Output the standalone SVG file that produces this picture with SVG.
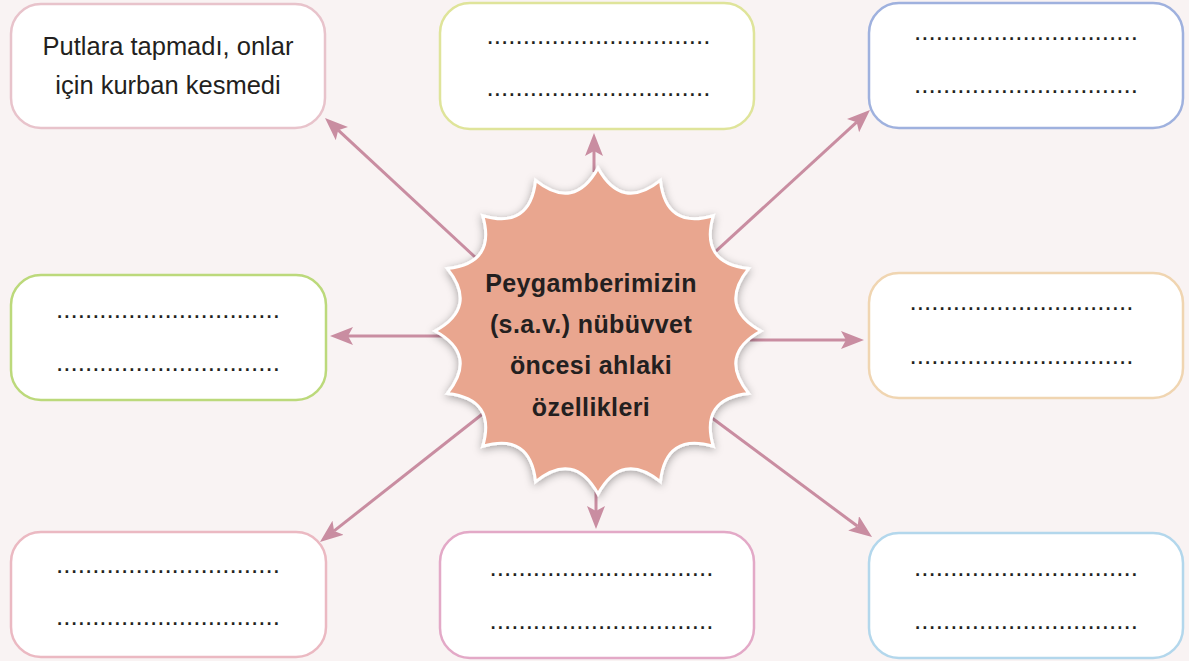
<svg xmlns="http://www.w3.org/2000/svg" width="1189" height="661" viewBox="0 0 1189 661">
<defs>
<style>
.box{fill:#fff;stroke-width:2.5}
.dots{font-family:"Liberation Sans",Arial,sans-serif;font-size:26px;fill:#231f20;text-anchor:middle}
.txt{font-family:"Liberation Sans",Arial,sans-serif;font-size:25.5px;fill:#231f20;text-anchor:middle}
.ctr{font-family:"Liberation Sans",Arial,sans-serif;font-size:25px;font-weight:bold;fill:#231f20;text-anchor:middle;letter-spacing:0.4px}
.conn{stroke:#c98da1;stroke-width:3;fill:none;marker-end:url(#ah)}
</style>
<marker id="ah" markerUnits="userSpaceOnUse" markerWidth="24" markerHeight="20" refX="5" refY="9" orient="auto" viewBox="0 0 24 20">
<path d="M0,0 L23,9 L0,18 L5,9 Z" fill="#c98da1"/>
</marker>
<filter id="sh" x="-20%" y="-20%" width="140%" height="140%">
<feDropShadow dx="0" dy="2" stdDeviation="4.5" flood-color="#000" flood-opacity="0.35"/>
</filter>
</defs>
<rect width="1189" height="661" fill="#f9f3f3"/>
<g id="connectors">
<line class="conn" x1="475" y1="257" x2="338.2" y2="130.2"/>
<line class="conn" x1="594" y1="172" x2="594" y2="151"/>
<line class="conn" x1="703" y1="263" x2="856.7" y2="122.2"/>
<line class="conn" x1="452" y1="336" x2="348" y2="336"/>
<line class="conn" x1="750" y1="340" x2="846" y2="340"/>
<line class="conn" x1="485" y1="412" x2="334.1" y2="530.9"/>
<line class="conn" x1="596" y1="490" x2="596" y2="511"/>
<line class="conn" x1="708" y1="415" x2="857.6" y2="526.3"/>
</g>
<g id="center">
<path filter="url(#sh)" fill="#e9a68f" stroke="#fff" stroke-width="3" stroke-linejoin="miter" d="M598,168 Q621.8,211.3 660.4,180.4 Q665.8,229.6 713.3,215.7 Q699.4,263.2 748.6,268.6 Q717.7,307.2 761,331 Q717.7,354.8 748.6,393.4 Q699.4,398.8 713.3,446.3 Q665.8,432.4 660.4,481.6 Q621.8,450.7 598,494 Q574.2,450.7 535.6,481.6 Q530.2,432.4 482.7,446.3 Q496.6,398.8 447.4,393.4 Q478.3,354.8 435,331 Q478.3,307.2 447.4,268.6 Q496.6,263.2 482.7,215.7 Q530.2,229.6 535.6,180.4 Q574.2,211.3 598,168 Z"/>
<text class="ctr" x="591" y="292">Peygamberimizin</text>
<text class="ctr" x="591" y="333">(s.a.v.) nübüvvet</text>
<text class="ctr" x="591" y="374">öncesi ahlaki</text>
<text class="ctr" x="591" y="416">özellikleri</text>
</g>
<g id="box-tl">
<rect class="box" x="11" y="4" width="314" height="124" rx="30" stroke="#e8c3cb"/>
<text class="txt" x="168" y="55">Putlara tapmadı, onlar</text>
<text class="txt" x="168" y="94">için kurban kesmedi</text>
</g>
<g id="box-tm">
<rect class="box" x="440" y="3" width="314" height="126" rx="30" stroke="#dfe49a"/>
<text class="dots" x="598.5" y="43.5">...............................</text>
<text class="dots" x="598.5" y="95.5">...............................</text>
</g>
<g id="box-tr">
<rect class="box" x="869" y="3" width="314" height="125" rx="30" stroke="#9fb1de"/>
<text class="dots" x="1026" y="39.5">...............................</text>
<text class="dots" x="1026" y="92.5">...............................</text>
</g>
<g id="box-ml">
<rect class="box" x="11" y="275" width="315" height="125" rx="30" stroke="#bcd97b"/>
<text class="dots" x="168" y="317.5">...............................</text>
<text class="dots" x="168" y="370.5">...............................</text>
</g>
<g id="box-mr">
<rect class="box" x="869" y="273" width="314" height="125" rx="30" stroke="#f0d5b1"/>
<text class="dots" x="1021.5" y="309.5">...............................</text>
<text class="dots" x="1021.5" y="363.5">...............................</text>
</g>
<g id="box-bl">
<rect class="box" x="11" y="532" width="315" height="125" rx="30" stroke="#ebb9c2"/>
<text class="dots" x="168" y="572.5">...............................</text>
<text class="dots" x="168" y="624.5">...............................</text>
</g>
<g id="box-bm">
<rect class="box" x="440" y="532" width="314" height="126" rx="30" stroke="#e3a9c7"/>
<text class="dots" x="601.5" y="575.5">...............................</text>
<text class="dots" x="601.5" y="628.5">...............................</text>
</g>
<g id="box-br">
<rect class="box" x="869" y="533" width="314" height="125" rx="30" stroke="#b3d7ec"/>
<text class="dots" x="1026" y="575.5">...............................</text>
<text class="dots" x="1026" y="628.5">...............................</text>
</g>
</svg>
